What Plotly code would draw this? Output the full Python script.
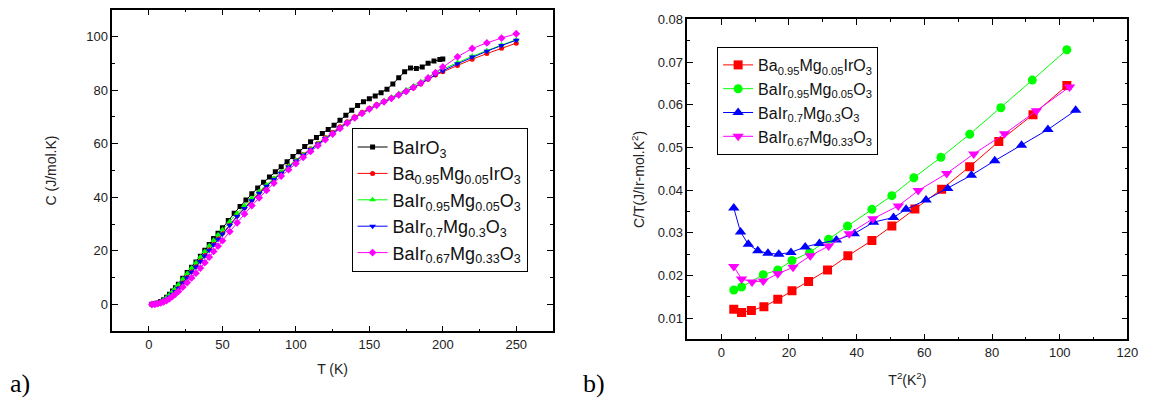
import plotly.graph_objects as go

# ---------------- Panel a) data: C vs T ----------------
T_black = [2, 4, 6, 8, 10, 12, 14, 16, 18, 20, 23, 26, 29, 32, 35, 38, 41, 44, 47, 50,
           54, 58, 62, 66, 70, 74, 78, 82, 86, 90, 94, 98, 102, 106, 110, 114, 118, 122,
           126, 130, 134, 138, 142, 146, 150, 154, 158, 162, 166, 170, 174, 178, 182,
           186, 190, 194, 198, 200]
C_black = [0.1, 0.3, 0.6, 1.1, 1.8, 2.7, 3.8, 5.0, 6.3, 7.6, 9.8, 11.9, 13.9, 15.9, 18.0,
           20.2, 22.4, 24.6, 26.6, 28.6, 31.3, 34.0, 36.6, 39.0, 41.3, 43.5, 45.6, 47.6,
           49.5, 51.4, 53.3, 55.2, 57.0, 58.9, 60.7, 62.3, 63.8, 65.3, 66.9, 68.7, 70.6,
           72.5, 74.2, 75.6, 76.8, 77.8, 79.0, 80.3, 82.3, 84.6, 86.8, 88.2, 88.0, 88.6,
           90.0, 90.8, 91.4, 91.6]

T_doped = [2, 4, 6, 8, 10, 12, 14, 16, 18, 20, 23, 26, 29, 32, 35, 38, 41, 44, 47, 50,
           55, 60, 65, 70, 75, 80, 85, 90, 95, 100, 105, 110, 115, 120, 125, 130, 135,
           140, 145, 150, 155, 160, 165, 170, 175, 180, 185, 190, 195, 200, 210, 220,
           230, 240, 250]
C_red = [0.1, 0.2, 0.5, 0.9, 1.4, 2.1, 3.0, 4.0, 5.1, 6.3, 8.2, 10.2, 12.2, 14.2, 16.3,
         18.4, 20.5, 22.6, 24.6, 26.6, 29.9, 33.1, 36.1, 39.0, 41.8, 44.4, 46.9, 49.3,
         51.6, 53.8, 56.0, 58.1, 60.2, 62.3, 64.3, 66.3, 68.2, 70.0, 71.7, 73.2, 74.6,
         75.8, 77.0, 78.2, 79.5, 80.8, 82.3, 84.0, 85.6, 86.8, 89.2, 91.5, 93.6, 95.6, 97.5]
C_green = [0.1, 0.3, 0.6, 1.1, 1.8, 2.7, 3.7, 4.9, 6.1, 7.4, 9.5, 11.6, 13.6, 15.6, 17.7,
           19.8, 21.9, 24.0, 26.0, 27.9, 31.0, 34.0, 36.9, 39.6, 42.2, 44.7, 47.1, 49.4,
           51.6, 53.8, 55.9, 58.0, 60.1, 62.1, 64.1, 66.0, 67.9, 69.7, 71.4, 73.0, 74.5,
           75.9, 77.3, 78.7, 80.1, 81.5, 83.1, 84.8, 86.5, 87.8, 90.3, 92.6, 94.7, 96.8, 98.8]
C_blue = [0.1, 0.2, 0.4, 0.8, 1.3, 2.0, 2.8, 3.8, 4.9, 6.1, 8.0, 10.0, 12.0, 14.0, 16.0,
          18.1, 20.2, 22.3, 24.3, 26.3, 29.6, 32.8, 35.8, 38.7, 41.5, 44.1, 46.6, 49.0,
          51.3, 53.5, 55.7, 57.8, 59.9, 61.9, 63.9, 65.9, 67.8, 69.6, 71.3, 72.8, 74.2,
          75.5, 76.8, 78.1, 79.4, 80.8, 82.4, 84.1, 85.8, 87.2, 89.8, 92.3, 94.5, 96.6, 98.6]
C_magenta = [0.0, 0.1, 0.3, 0.6, 1.0, 1.5, 2.2, 3.0, 3.9, 4.9, 6.5, 8.2, 9.9, 11.7, 13.6,
             15.6, 17.7, 19.8, 21.8, 23.8, 27.2, 30.5, 33.8, 36.9, 39.8, 42.6, 45.3, 47.9,
             50.3, 52.6, 54.9, 57.1, 59.3, 61.5, 63.6, 65.7, 67.7, 69.6, 71.3, 72.9, 74.3,
             75.6, 76.9, 78.2, 79.5, 81.0, 82.6, 84.5, 86.5, 88.6, 92.4, 95.5, 97.6, 99.4,
             101.0]

# ---------------- Panel b) data: C/T vs T^2 ----------------
T2_red = [3.7, 6.0, 8.9, 12.6, 16.7, 20.9, 25.8, 31.4, 37.4, 44.5, 50.4, 57.2, 65.1,
          73.4, 82.0, 92.1, 102.1]
CT_red = [0.0121, 0.0113, 0.0118, 0.0127, 0.0144, 0.0164, 0.0186, 0.0213, 0.0246,
          0.0282, 0.0316, 0.0356, 0.0402, 0.0455, 0.0514, 0.0577, 0.0645]
T2_green = [3.7, 6.0, 12.4, 16.7, 20.9, 26.1, 31.7, 37.3, 44.5, 50.4, 56.9, 64.9, 73.4,
            82.6, 91.9, 102.1]
CT_green = [0.0166, 0.0173, 0.0202, 0.0213, 0.0235, 0.0254, 0.0285, 0.0316, 0.0355,
            0.0387, 0.0429, 0.0477, 0.0531, 0.0593, 0.0658, 0.0729]
T2_blue = [3.7, 5.7, 8.0, 10.8, 13.8, 17.0, 20.6, 24.8, 29.0, 34.0, 39.3, 45.0, 50.9,
           54.6, 60.5, 66.9, 73.9, 80.8, 88.7, 96.5, 104.7]
CT_blue = [0.0358, 0.0302, 0.0273, 0.0258, 0.0252, 0.0250, 0.0254, 0.0267, 0.0275,
           0.0283, 0.0298, 0.0325, 0.0336, 0.0355, 0.0377, 0.0404, 0.0435, 0.0469,
           0.0505, 0.0542, 0.0587]
T2_magenta = [3.7, 6.0, 9.1, 12.4, 16.7, 21.2, 26.3, 31.7, 37.8, 44.8, 52.3, 58.2, 66.6,
              74.6, 83.7, 93.1, 102.9]
CT_magenta = [0.0221, 0.0192, 0.0185, 0.0187, 0.0204, 0.0219, 0.0246, 0.0269, 0.0298,
              0.0333, 0.0363, 0.0399, 0.0439, 0.0485, 0.0532, 0.0586, 0.0642]

names_a = ["BaIrO<sub>3</sub>",
           "Ba<sub>0.95</sub>Mg<sub>0.05</sub>IrO<sub>3</sub>",
           "BaIr<sub>0.95</sub>Mg<sub>0.05</sub>O<sub>3</sub>",
           "BaIr<sub>0.7</sub>Mg<sub>0.3</sub>O<sub>3</sub>",
           "BaIr<sub>0.67</sub>Mg<sub>0.33</sub>O<sub>3</sub>"]

fig = go.Figure()

a_series = [(T_black, C_black, "#000000", "square", 5),
            (T_doped, C_red, "#FF0000", "circle", 5),
            (T_doped, C_green, "#00FF00", "triangle-up", 6),
            (T_doped, C_blue, "#0000FF", "triangle-down", 6),
            (T_doped, C_magenta, "#FF00FF", "diamond", 6)]
for (xs, ys, col, sym, sz), nm in zip(a_series, names_a):
    fig.add_trace(go.Scatter(x=xs, y=ys, mode="lines+markers", name=nm,
                             line=dict(color=col, width=1),
                             marker=dict(color=col, symbol=sym, size=sz),
                             xaxis="x", yaxis="y", legend="legend"))

b_series = [(T2_red, CT_red, "#FF0000", "square", 9, names_a[1]),
            (T2_green, CT_green, "#00FF00", "circle", 9, names_a[2]),
            (T2_blue, CT_blue, "#0000FF", "triangle-up", 10, names_a[3]),
            (T2_magenta, CT_magenta, "#FF00FF", "triangle-down", 10, names_a[4])]
for xs, ys, col, sym, sz, nm in b_series:
    fig.add_trace(go.Scatter(x=xs, y=ys, mode="lines+markers", name=nm,
                             line=dict(color=col, width=1),
                             marker=dict(color=col, symbol=sym, size=sz),
                             xaxis="x2", yaxis="y2", legend="legend2"))

tickfont = dict(family="Liberation Sans, Arial", size=13, color="#222")
titlefont = dict(family="Liberation Sans, Arial", size=14, color="#222")
ax_common = dict(showline=True, linecolor="black", linewidth=1.5, mirror="ticks",
                 ticks="inside", ticklen=6, tickwidth=1.2, tickcolor="black",
                 showgrid=False, zeroline=False, tickfont=tickfont)

fig.update_layout(
    width=1154, height=407,
    margin=dict(l=0, r=0, t=0, b=0),
    paper_bgcolor="white", plot_bgcolor="white",
    showlegend=True,
    xaxis=dict(domain=[0.0982, 0.4838], range=[-25, 275], tick0=0, dtick=50,
               minor=dict(ticks="inside", ticklen=3, dtick=25, tick0=0, tickcolor="black"),
               title=dict(text="T (K)", font=titlefont, standoff=14),
               anchor="y", **ax_common),
    yaxis=dict(domain=[0.1892, 0.9934], range=[-10, 110], tick0=0, dtick=20,
               minor=dict(ticks="inside", ticklen=3, dtick=10, tick0=0, tickcolor="black"),
               title=dict(text="C (J/mol.K)", font=titlefont, standoff=26),
               anchor="x", **ax_common),
    xaxis2=dict(domain=[0.6014, 0.9864], range=[-10, 120], tick0=0, dtick=20,
                minor=dict(ticks="inside", ticklen=3, dtick=10, tick0=0, tickcolor="black"),
                title=dict(text="T<sup>2</sup>(K<sup>2</sup>)", font=titlefont, standoff=16),
                anchor="y2", **ax_common),
    yaxis2=dict(domain=[0.1688, 0.9688], range=[0.005, 0.08], tick0=0.01, dtick=0.01,
                tickformat=".2f",
                minor=dict(ticks="inside", ticklen=3, dtick=0.005, tick0=0, tickcolor="black"),
                title=dict(text="C/T(J/Ir-mol.K<sup>2</sup>)", font=titlefont, standoff=10),
                anchor="x2", **ax_common),
    legend=dict(x=0.3076, y=0.698, xanchor="left", yanchor="top",
                bgcolor="white", bordercolor="black", borderwidth=1,
                font=dict(family="Liberation Sans, Arial", size=18, color="#111"),
                tracegroupgap=0),
    legend2=dict(x=0.6274, y=0.90, xanchor="left", yanchor="top",
                 bgcolor="white", bordercolor="black", borderwidth=1,
                 font=dict(family="Liberation Sans, Arial", size=16, color="#111"),
                 tracegroupgap=0),
    annotations=[
        dict(text="a)", x=8 / 1154, y=1 - 383 / 407, xref="paper", yref="paper",
             showarrow=False, xanchor="left", yanchor="middle",
             font=dict(family="Liberation Serif, DejaVu Serif", size=26, color="black")),
        dict(text="b)", x=587 / 1154, y=1 - 383 / 407, xref="paper", yref="paper",
             showarrow=False, xanchor="left", yanchor="middle",
             font=dict(family="Liberation Serif, DejaVu Serif", size=26, color="black")),
    ],
)

fig.write_html("out.html")
